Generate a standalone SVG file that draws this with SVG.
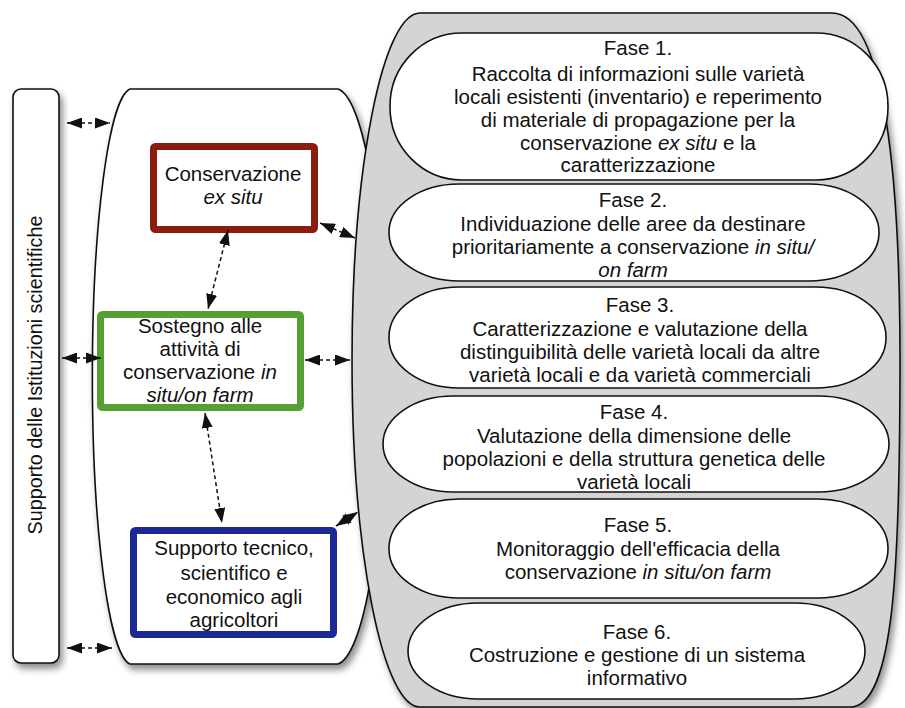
<svg xmlns="http://www.w3.org/2000/svg" width="905" height="708" viewBox="0 0 905 708">
<defs>
<style>
text{font-family:"Liberation Sans",Arial,sans-serif;font-size:20.5px;fill:#111;text-anchor:middle}
.it{font-style:italic}
.shape{stroke:#111;stroke-width:1.6}
.phase{fill:#fff;stroke:#111;stroke-width:1.6}
.conn{fill:none;stroke:#111;stroke-width:1.5;stroke-dasharray:4 3}
</style>
<filter id="sh" x="-20%" y="-10%" width="140%" height="125%">
<feDropShadow dx="3" dy="5" stdDeviation="3.5" flood-color="#000" flood-opacity="0.45"/>
</filter>
<marker id="ah" viewBox="0 0 15 11" refX="15" refY="5.5" markerWidth="15" markerHeight="11" markerUnits="userSpaceOnUse" orient="auto-start-reverse">
<path d="M0,0 L15,5.5 L0,11 z" fill="#111"/>
</marker>
</defs>
<rect width="905" height="708" fill="#fff"/>

<g id="istituzioni">
<rect x="13" y="89" width="46" height="574" rx="8" fill="#fff" class="shape" filter="url(#sh)"/>
<text transform="translate(42,375) rotate(-90)" style="font-size:19.8px">Supporto delle Istituzioni scientifiche</text>
</g>

<g id="centro">
<path d="M130 89 L338 89 A50 288 0 0 1 338 664 L130 664 A40 288 0 0 1 130 89 Z" fill="#fff" class="shape" filter="url(#sh)"/>
</g>

<g id="fasi-contenitore">
<path d="M432 13 L832 13 C885 13 900 180 900 360 C900 560 895 707 850 707 L420 707 A68 347 0 0 1 420 13 Z" fill="#d4d4d4" class="shape" filter="url(#sh)"/>
</g>

<g id="fase1">
<rect x="390" y="33" width="498" height="147" rx="72" ry="73" class="phase"/>
<text x="638" y="55">Fase 1.</text>
<text x="638" y="81">Raccolta di informazioni sulle varietà</text>
<text x="638" y="104">locali esistenti (inventario) e reperimento</text>
<text x="638" y="127">di materiale di propagazione per la</text>
<text x="638" y="150">conservazione <tspan class="it">ex situ</tspan> e la</text>
<text x="638" y="172">caratterizzazione</text>
</g>

<g id="fase2">
<rect x="389" y="184" width="490" height="97" rx="70" ry="48" class="phase"/>
<text x="633" y="207">Fase 2.</text>
<text x="633" y="231">Individuazione delle aree da destinare</text>
<text x="633" y="254">prioritariamente a conservazione <tspan class="it">in situ/</tspan></text>
<text x="633" y="277" class="it">on farm</text>
</g>

<g id="fase3">
<rect x="389" y="287" width="497" height="101" rx="70" ry="50" class="phase"/>
<text x="640" y="312">Fase 3.</text>
<text x="640" y="336">Caratterizzazione e valutazione della</text>
<text x="640" y="359">distinguibilità delle varietà locali da altre</text>
<text x="640" y="382">varietà locali e da varietà commerciali</text>
</g>

<g id="fase4">
<rect x="383" y="396" width="506" height="96" rx="70" ry="48" class="phase"/>
<text x="634" y="419">Fase 4.</text>
<text x="634" y="443">Valutazione della dimensione delle</text>
<text x="634" y="466">popolazioni e della struttura genetica delle</text>
<text x="634" y="489">varietà locali</text>
</g>

<g id="fase5">
<rect x="389" y="499" width="499" height="99" rx="70" ry="49" class="phase"/>
<text x="638" y="532">Fase 5.</text>
<text x="638" y="556">Monitoraggio dell'efficacia della</text>
<text x="638" y="579">conservazione <tspan class="it">in situ/on farm</tspan></text>
</g>

<g id="fase6">
<rect x="408" y="603" width="457" height="96" rx="70" ry="48" class="phase"/>
<text x="637" y="639">Fase 6.</text>
<text x="637" y="662">Costruzione e gestione di un sistema</text>
<text x="637" y="685">informativo</text>
</g>

<g id="exsitu">
<rect x="153.5" y="146.5" width="161" height="83" rx="2" fill="#fff" stroke="#8b1d10" stroke-width="7"/>
<text x="233" y="181">Conservazione</text>
<text x="233" y="204" class="it">ex situ</text>
</g>

<g id="insitu">
<rect x="100.5" y="314.5" width="200" height="93" rx="2" fill="#fff" stroke="#55a032" stroke-width="7"/>
<text x="200" y="333">Sostegno alle</text>
<text x="200" y="356">attività di</text>
<text x="200" y="379">conservazione <tspan class="it">in</tspan></text>
<text x="200" y="402" class="it">situ/on farm</text>
</g>

<g id="supporto">
<rect x="133.5" y="530.5" width="200" height="104" rx="2" fill="#fff" stroke="#1c2893" stroke-width="7"/>
<text x="234" y="555">Supporto tecnico,</text>
<text x="234" y="580">scientifico e</text>
<text x="234" y="604">economico agli</text>
<text x="234" y="627">agricoltori</text>
</g>

<g id="connettori">
<path class="conn" d="M67 123 L110 123" marker-start="url(#ah)" marker-end="url(#ah)"/>
<path class="conn" d="M62 358 L101 358" marker-start="url(#ah)" marker-end="url(#ah)"/>
<path class="conn" d="M67 648 L112 648" marker-start="url(#ah)" marker-end="url(#ah)"/>
<path class="conn" d="M305 360 L350 360" marker-start="url(#ah)" marker-end="url(#ah)"/>
<path class="conn" d="M320 223 L355 238" marker-start="url(#ah)" marker-end="url(#ah)"/>
<path class="conn" d="M336 526 L358 512" marker-start="url(#ah)" marker-end="url(#ah)"/>
<path class="conn" d="M228 230 L208 309" marker-start="url(#ah)" marker-end="url(#ah)"/>
<path class="conn" d="M205 413 L222 523" marker-start="url(#ah)" marker-end="url(#ah)"/>
</g>
</svg>
